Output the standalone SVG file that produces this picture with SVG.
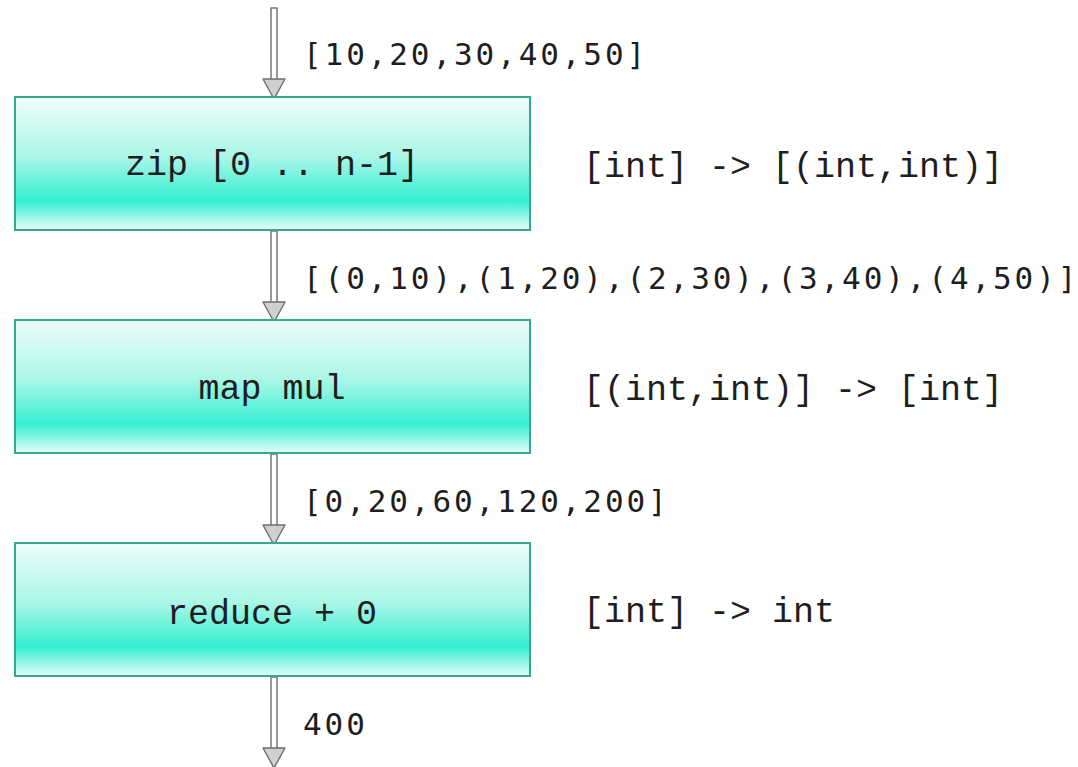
<svg xmlns="http://www.w3.org/2000/svg" width="1078" height="767" viewBox="0 0 1078 767">
<defs>
<linearGradient id="g" x1="0" y1="0" x2="0" y2="1">
<stop offset="0" stop-color="#eefdfa"/>
<stop offset="0.45" stop-color="#aaf6e7"/>
<stop offset="0.78" stop-color="#34efd2"/>
<stop offset="1" stop-color="#e6fdf8"/>
</linearGradient>
<g id="arr">
<rect x="271" y="0" width="6" height="72" fill="#fff" stroke="#6e6e6e" stroke-width="1.4"/>
<path d="M263,71 L285,71 L274,91 Z" fill="#d0d0d0" stroke="#6e6e6e" stroke-width="1.4" stroke-linejoin="round"/>
</g>
</defs>
<style>
.box{fill:url(#g);stroke:#35a98f;stroke-width:2}
.bt{font-family:"Liberation Mono","Courier New",monospace;font-size:35px;fill:#1e1e1e;text-anchor:middle}
.tt{font-family:"Liberation Mono","Courier New",monospace;font-size:35px;fill:#1e1e1e}
.el{font-family:"DejaVu Sans Mono",monospace;font-size:31px;fill:#1e1e1e;letter-spacing:2.9px}
</style>
<rect width="1078" height="767" fill="#fff"/>
<g id="connectors">
<use href="#arr" y="8"/>
<use href="#arr" y="231"/>
<use href="#arr" y="454"/>
<use href="#arr" y="677"/>
<text class="el" x="303" y="65">[10,20,30,40,50]</text>
<text class="el" x="303" y="289">[(0,10),(1,20),(2,30),(3,40),(4,50)]</text>
<text class="el" x="303" y="512">[0,20,60,120,200]</text>
<text class="el" x="303" y="735">400</text>
</g>
<g id="zip">
<rect class="box" x="15" y="97" width="515" height="133"/>
<text class="bt" x="272" y="175">zip [0 .. n-1]</text>
</g>
<g id="map">
<rect class="box" x="15" y="320" width="515" height="133"/>
<text class="bt" x="272" y="399">map mul</text>
</g>
<g id="reduce">
<rect class="box" x="15" y="543" width="515" height="133"/>
<text class="bt" x="272" y="624">reduce + 0</text>
</g>
<g id="types">
<text class="tt" x="583" y="177">[int] -&gt; [(int,int)]</text>
<text class="tt" x="583" y="400">[(int,int)] -&gt; [int]</text>
<text class="tt" x="583" y="622">[int] -&gt; int</text>
</g>
</svg>
